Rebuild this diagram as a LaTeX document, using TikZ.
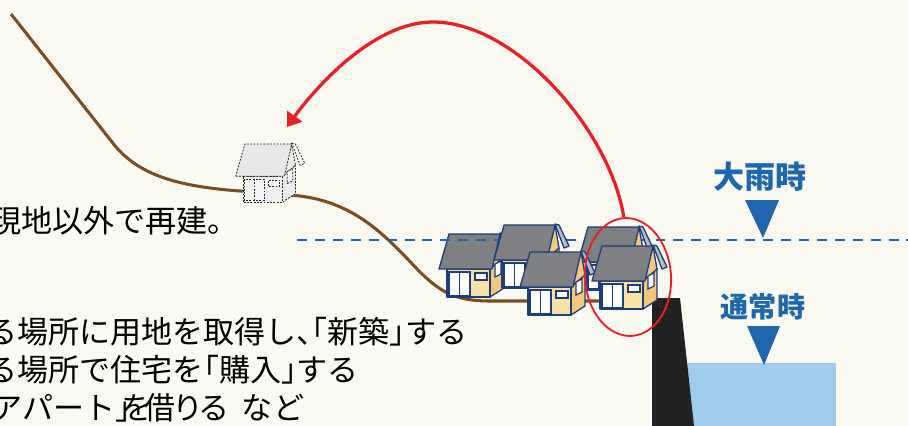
\documentclass[tikz,border=0pt]{standalone}
\usepackage{fontspec}
\usetikzlibrary{arrows.meta,shapes.geometric}
\newfontfamily\jp{Noto Sans CJK JP}
\newfontfamily\jphalf[RawFeature=+halt]{Noto Sans CJK JP}

\definecolor{paper}{HTML}{FBFAF2}
\definecolor{soil}{HTML}{7A4E22}
\definecolor{alert}{HTML}{E8202A}
\definecolor{flood}{HTML}{1E67AE}
\definecolor{water}{HTML}{9FCBEC}
\definecolor{bank}{HTML}{222222}
\definecolor{housefront}{HTML}{F8E2AA}
\definecolor{houseside}{HTML}{F0C97E}
\definecolor{roofgray}{HTML}{7E8083}
\definecolor{houseline}{HTML}{1F3D78}
\definecolor{bargegray}{HTML}{B4BCC8}

\tikzset{
  wallface/.style={fill=housefront, draw=houseline, line width=1.1pt, line join=round},
  wallside/.style={fill=houseside, draw=houseline, line width=1.1pt, line join=round},
  roofface/.style={fill=roofgray, draw=houseline, line width=1.1pt, line join=round},
  barge/.style={fill=bargegray, draw=houseline, line width=1.1pt, line join=round},
  opening/.style={fill=white, draw=houseline, line width=1pt},
}

% one small house, origin at the bottom left corner of its front wall
\newcommand{\cabin}[3][]{%
  \begin{scope}[shift={(#2,#3)},#1]
    \draw[barge] (53,-64) -- (57,-63) -- (67,-42) -- (62,-40) -- cycle;
    \draw[wallside] (43,0) -- (57,-9) -- (57,-40) -- (43,-28) -- cycle;
    \draw[wallside] (43,-28) -- (53,-63) -- (57,-40) -- cycle;
    \draw[opening] (48,-20) -- (54,-23) -- (54,-36) -- (48,-33) -- cycle;
    \draw[wallface] (0,0) rectangle (43,-28);
    \draw[roofface] (-8,-28) -- (45,-28) -- (53,-63) -- (2,-63) -- cycle;
    \draw[opening] (2,-1.5) rectangle (23,-25);
    \draw[opening] (12.5,-1.5) -- (12.5,-25);
    \draw[opening] (28,-17) rectangle (40,-24);
  \end{scope}}

\begin{document}
\begin{tikzpicture}[x=0.03cm, y=-0.03cm,
  ground/.style={draw=soil, line width=2.6pt, line join=round},
  flight/.style={draw=alert, line width=2.8pt, -{Triangle[length=4mm,width=5.4mm]}},
  level/.style={draw=flood, line width=1.8pt, dash pattern=on 8.5pt off 6.8pt},
  marker/.style={fill=flood},
  body/.style={anchor=base west, inner sep=0pt, font=\jphalf\fontsize{26.5}{30}\selectfont},
  tag/.style={inner sep=0pt, text=flood, font=\jp\bfseries\fontsize{#1}{#1}\selectfont}]

\clip (0,0) rectangle (908,426);
\fill[paper] (0,0) rectangle (908,426);

% slope and river bed
\draw[ground] (11,14) -- (112,142) .. controls (135,172) and (170,186) .. (240,191)
  -- (300,196) .. controls (355,203) and (385,235) .. (418,270)
  .. controls (440,292) and (455,301) .. (490,301) -- (600,301);

% river
\fill[water] (680,363) rectangle (836,426);
\fill[bank] (652,298) -- (680,298) -- (694,426) -- (652,426) -- cycle;

% new house, only planned
\cabin[scale=0.92,
  wallface/.style={fill=gray!12, draw=black!85, line width=0.7pt, dash pattern=on 1.6pt off 1.2pt},
  wallside/.style={fill=gray!16, draw=black!85, line width=0.7pt, dash pattern=on 1.6pt off 1.2pt},
  roofface/.style={fill=gray!18, draw=black!85, line width=0.7pt, dash pattern=on 1.6pt off 1.2pt},
  barge/.style={fill=white, draw=black!85, line width=0.7pt, dash pattern=on 1.6pt off 1.2pt},
  opening/.style={fill=gray!8, draw=black!85, line width=0.7pt, dash pattern=on 1.6pt off 1.2pt}]{243}{202}

% houses by the river
\cabin{447}{297}
\draw[level] (297,240) -- (908,240);
\cabin{502}{288}
\cabin{586}{290}
\cabin{528}{315}
\cabin{600}{309}

% water levels
\node[tag=26.5] (heavy) at (760,177) {大雨時};
\fill[marker] (745,200) -- (779,200) -- (763,238) -- cycle;
\node[tag=24] (usual) at (763,307) {通常時};
\fill[marker] (747,326) -- (780,326) -- (764,365) -- cycle;

% moving away
\node[ellipse, draw=alert, line width=1.6pt, rotate=4,
  minimum width=2.58cm, minimum height=3.54cm] (hit) at (628,277) {};
\coordinate (dest) at (287,127);
\draw[flight] (hit.north) .. controls (610,130) and (515,22) .. (433,22)
  .. controls (370,22) and (310,95) .. (dest);

% notes
\node[body] (rebuild) at (-10,232) {現地以外で再建。};
\node[body] (buyland) at (-14,343) {る場所に用地を取得し、「新築」する};
\node[body] (buyhome) at (-14,381) {る場所で住宅を「購入」する};
\node[body] (rent) at (-24,419)
  {「アパート」\kern-0.3em を\kern-0.25em 借\kern-0.12em り\kern-0.15em る\kern0.4em など};
\end{tikzpicture}
\end{document}
